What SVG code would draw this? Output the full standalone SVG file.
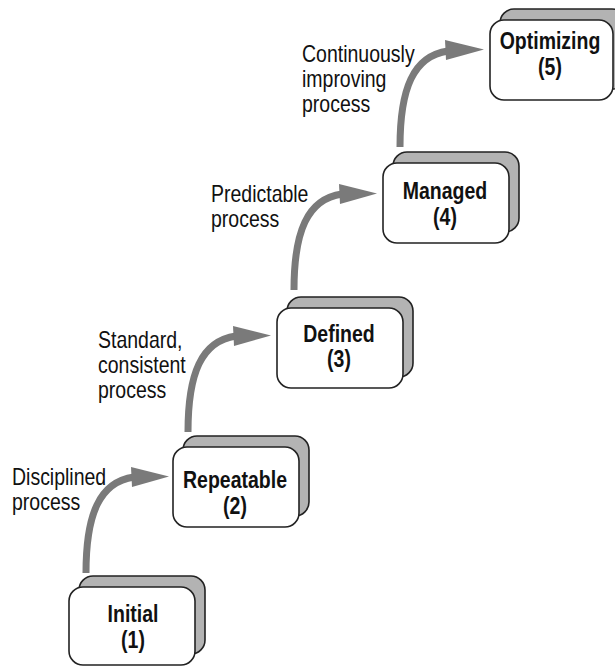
<svg xmlns="http://www.w3.org/2000/svg" width="615" height="666" viewBox="0 0 615 666">
  <defs>
    <style>
      .shadow { fill: #b3b3b3; stroke: #222; stroke-width: 1.6; }
      .front { fill: #ffffff; stroke: #222; stroke-width: 1.6; }
      .nlabel { font-family: "Liberation Sans", Arial, sans-serif; font-size: 19.5px; font-weight: bold; fill: #111; text-anchor: middle; }
      .slabel { font-family: "Liberation Sans", Arial, sans-serif; font-size: 19.5px; fill: #111; }
      .shaft { fill: none; stroke: #7a7a7a; stroke-width: 7; }
      .head { fill: #7a7a7a; }
    </style>
  </defs>
  <rect width="615" height="666" fill="#ffffff"/>

  <g id="connectors">
    <g id="arrow-1-2">
      <path class="shaft" d="M 86 573 C 86 515, 99 482, 134 477"/>
      <polygon class="head" points="131,467 169,476.5 132,487"/>
    </g>
    <g id="arrow-2-3">
      <path class="shaft" d="M 188 432 C 188 374, 201 341, 236 336"/>
      <polygon class="head" points="233,326 271,335.5 234,346"/>
    </g>
    <g id="arrow-3-4">
      <path class="shaft" d="M 294 290 C 294 232, 307 199, 342 194"/>
      <polygon class="head" points="339,184 377,193.5 340,204"/>
    </g>
    <g id="arrow-4-5">
      <path class="shaft" d="M 400 147 C 400 89, 413 56, 448 51"/>
      <polygon class="head" points="445,40 484,49.5 446,60"/>
    </g>
  </g>

  <g id="labels">
    <text class="slabel" transform="matrix(1,0,0,1.2,12,485)"><tspan x="0" y="0">Disciplined</tspan><tspan x="0" dy="20.8">process</tspan></text>
    <text class="slabel" transform="matrix(1,0,0,1.2,98,348)"><tspan x="0" y="0">Standard,</tspan><tspan x="0" dy="20.8">consistent</tspan><tspan x="0" dy="20.8">process</tspan></text>
    <text class="slabel" transform="matrix(1,0,0,1.2,211,202)"><tspan x="0" y="0">Predictable</tspan><tspan x="0" dy="20.8">process</tspan></text>
    <text class="slabel" transform="matrix(1,0,0,1.2,302,62)"><tspan x="0" y="0">Continuously</tspan><tspan x="0" dy="20.8">improving</tspan><tspan x="0" dy="20.8">process</tspan></text>
  </g>

  <g id="node-1">
    <rect class="shadow" x="79" y="576" width="126" height="78" rx="14"/>
    <rect class="front" x="69" y="587" width="126" height="78" rx="14"/>
    <text class="nlabel" transform="matrix(1,0,0,1.2,133,622)"><tspan x="0" y="0">Initial</tspan><tspan x="0" dy="22">(1)</tspan></text>
  </g>
  <g id="node-2">
    <rect class="shadow" x="183" y="436" width="126" height="80" rx="14"/>
    <rect class="front" x="173" y="447" width="126" height="80" rx="14"/>
    <text class="nlabel" transform="matrix(1,0,0,1.2,235,488)"><tspan x="0" y="0">Repeatable</tspan><tspan x="0" dy="21.5">(2)</tspan></text>
  </g>
  <g id="node-3">
    <rect class="shadow" x="287" y="297" width="126" height="80" rx="14"/>
    <rect class="front" x="277" y="308" width="126" height="80" rx="14"/>
    <text class="nlabel" transform="matrix(1,0,0,1.2,339,342)"><tspan x="0" y="0">Defined</tspan><tspan x="0" dy="21">(3)</tspan></text>
  </g>
  <g id="node-4">
    <rect class="shadow" x="393" y="152" width="126" height="80" rx="14"/>
    <rect class="front" x="383" y="163" width="126" height="80" rx="14"/>
    <text class="nlabel" transform="matrix(1,0,0,1.2,445,199)"><tspan x="0" y="0">Managed</tspan><tspan x="0" dy="22">(4)</tspan></text>
  </g>
  <g id="node-5">
    <rect class="shadow" x="500" y="9" width="126" height="80" rx="14"/>
    <rect class="front" x="490" y="20" width="123" height="80" rx="14"/>
    <text class="nlabel" transform="matrix(1,0,0,1.2,550,49)"><tspan x="0" y="0">Optimizing</tspan><tspan x="0" dy="22">(5)</tspan></text>
  </g>
</svg>
